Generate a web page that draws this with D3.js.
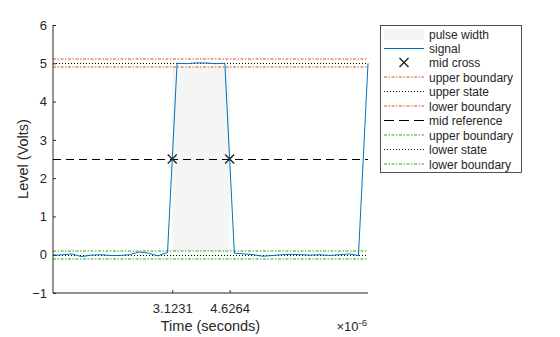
<!DOCTYPE html>
<html><head><meta charset="utf-8">
<script src="https://cdn.jsdelivr.net/npm/d3@7"></script>
<style>body{margin:0;background:#fff}svg{display:block;font-family:"Liberation Sans",Arial,sans-serif}</style>
</head><body><svg id="c" width="560" height="337"></svg>
<script>
const timeUs = [0,0.25,0.5,0.75,1,1.25,1.5,1.75,2,2.25,2.5,2.75,3,3.25,3.5,3.75,4,4.25,4.5,4.75,5,5.25,5.5,5.75,6,6.25,6.5,6.75,7,7.25,7.5,7.75,8,8.25];
const levelV = [-0.02,0,0.02,-0.05,-0.01,0,-0.02,-0.02,0,0.07,0.04,-0.03,0.06,5.0,4.99,5.01,5.01,4.99,5.0,0.04,0.02,0,-0.04,-0.02,0,0.01,0,-0.01,0,-0.02,0,0.02,-0.02,5.0];
const crossTimes = [3.1231, 4.6264];
const crossLabels = ["3.1231", "4.6264"];
const yTicks = [-1,0,1,2,3,4,5,6];
const midRef = 2.5;
const upperState = 5, lowerState = 0;
const upperBounds = [5.1, 4.9];
const lowerBounds = [0.1, -0.1];
const legendLabels = ["pulse width","signal","mid cross","upper boundary","upper state","lower boundary","mid reference","upper boundary","lower state","lower boundary"];

const svg = d3.select("#c");
const L = 53, R = 368, T = 25, B = 293;
const x = d3.scaleLinear().domain([0, 8.25]).range([L, R]);
const y = d3.scaleLinear().domain([-1, 6]).range([B, T]);
const axc = "#262626";
const orange = "#D95319", green = "#22aa22";
const dashDot = "3,1.5,1.5,1.5", dotted = "1,2", dashed = "8,5";

// pulse width patch
svg.append("rect").attr("x", x(crossTimes[0])).attr("width", x(crossTimes[1]) - x(crossTimes[0]))
  .attr("y", y(upperBounds[1])).attr("height", y(lowerBounds[0]) - y(upperBounds[1]))
  .attr("fill", "#f5f5f5");

function hline(v, color, dash, crisp){
  const yy = crisp ? Math.round(y(v)) + 0.5 : Math.round(y(v));
  svg.append("line").attr("x1", L).attr("x2", R).attr("y1", yy).attr("y2", yy)
    .attr("stroke", color).attr("stroke-width", crisp ? 1 : 1.2).attr("stroke-dasharray", dash);
}
hline(upperBounds[0], orange, dashDot, false);
hline(upperState, "#000", dotted, true);
hline(upperBounds[1], orange, dashDot, false);
hline(midRef, "#000", dashed, true);
hline(lowerBounds[0], green, dashDot, false);
hline(lowerState, "#000", dotted, true);
hline(lowerBounds[1], green, dashDot, false);

// signal
const line = d3.line().x((d,i)=>x(timeUs[i])).y(d=>y(d));
svg.append("path").datum(levelV).attr("d", line).attr("fill","none")
  .attr("stroke","#0072BD").attr("stroke-width",1);

// mid cross markers
function xmark(g, cx, cy){
  const s = 4.5;
  g.append("path").attr("d", `M${cx-s},${cy-s}L${cx+s},${cy+s}M${cx-s},${cy+s}L${cx+s},${cy-s}`)
    .attr("stroke", "#262626").attr("stroke-width", 1.4).attr("fill","none");
}
crossTimes.forEach(t => xmark(svg, x(t), y(midRef)));

// axes
const yAxis = d3.axisLeft(y).tickValues(yTicks).tickSize(-3).tickPadding(6).tickFormat(d3.format("d"));
const gy = svg.append("g").attr("transform", `translate(${L},0)`).call(yAxis);
const xAxis = d3.axisBottom(x).tickValues(crossTimes).tickSize(-3).tickPadding(11).tickFormat((d,i)=>crossLabels[i]);
const gx = svg.append("g").attr("transform", `translate(0,${B})`).call(xAxis);
[gx, gy].forEach(g => {
  g.select(".domain").attr("stroke", axc).attr("d", null);
  g.selectAll(".tick line").attr("stroke", axc);
  g.selectAll(".tick text").attr("fill", axc).style("font-size", "13px").style("font-family", '"Liberation Sans",Arial,sans-serif');
});
gy.select(".domain").attr("d", `M0,${T}V${B}`);
gx.select(".domain").attr("d", `M${L},0H${R}`);
gx.selectAll(".tick text").attr("dy", "0.71em");

// labels
svg.append("text").attr("x", (L+R)/2).attr("y", 331).attr("text-anchor","middle")
  .attr("fill", axc).style("font-size","14.5px").text("Time (seconds)");
svg.append("text").attr("transform", `translate(28,${(T+B)/2}) rotate(-90)`).attr("text-anchor","middle")
  .attr("fill", axc).style("font-size","14.5px").text("Level (Volts)");
const ex = svg.append("text").attr("x", 367).attr("y", 331).attr("text-anchor","end").attr("fill", axc).style("font-size","13px");
ex.append("tspan").text("×10");
ex.append("tspan").attr("dy", -5).style("font-size","9.5px").text("-6");

// legend
const lg = svg.append("g");
lg.append("rect").attr("x", 380.5).attr("y", 25.5).attr("width", 141).attr("height", 147)
  .attr("fill", "#fff").attr("stroke", axc).attr("stroke-width", 0.8);
const rowY = i => 33.5 + i * 14.45;
const lx1 = 384, lx2 = 424;
legendLabels.forEach((lab, i) => {
  const base = Math.round(rowY(i));
  const cy = base + 0.5;
  if (i === 0) {
    lg.append("rect").attr("x", lx1).attr("y", cy-5.5).attr("width", lx2-lx1).attr("height", 11).attr("fill", "#f5f5f5");
  } else if (i === 1) {
    lg.append("line").attr("x1", lx1).attr("x2", lx2).attr("y1", cy).attr("y2", cy).attr("stroke", "#0072BD");
  } else if (i === 2) {
    xmark(lg, (lx1+lx2)/2, cy);
  } else {
    const styles = {3:[orange,dashDot,false],4:["#000",dotted,true],5:[orange,dashDot,false],6:["#000",dashed,true],7:[green,dashDot,false],8:["#000",dotted,true],9:[green,dashDot,false]};
    const [c, d, crisp] = styles[i];
    const ly = crisp ? cy : base;
    lg.append("line").attr("x1", lx1).attr("x2", lx2).attr("y1", ly).attr("y2", ly)
      .attr("stroke", c).attr("stroke-width", crisp ? 1 : 1.2).attr("stroke-dasharray", i===6 ? "10,5" : d);
  }
  lg.append("text").attr("x", 429).attr("y", cy + 4).attr("fill", axc).style("font-size", "12px").text(lab);
});
</script></body></html>
